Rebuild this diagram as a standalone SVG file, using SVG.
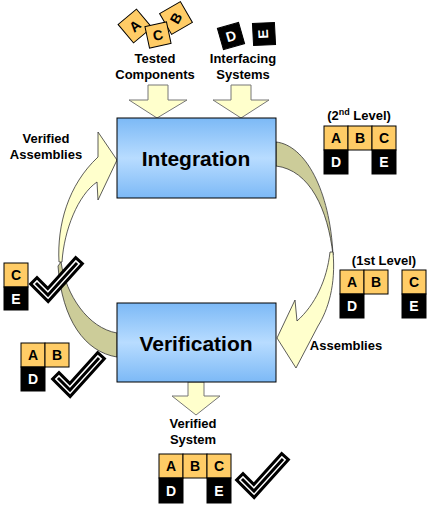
<svg xmlns="http://www.w3.org/2000/svg" width="427" height="508" viewBox="0 0 427 508">
<defs>
<linearGradient id="boxg" x1="0" y1="0" x2="0" y2="1">
<stop offset="0" stop-color="#7cb9f6"/>
<stop offset="0.5" stop-color="#b8dcff"/>
<stop offset="1" stop-color="#7cb9f6"/>
</linearGradient>
<g id="check">
<polyline points="0,0 11,11 39,-20" fill="none" stroke="#000" stroke-width="12" stroke-linejoin="miter" stroke-linecap="square"/>
<polyline points="0,0 11,11 39,-20" fill="none" stroke="#fff" stroke-width="6" stroke-linejoin="miter" stroke-linecap="square"/>
<polyline points="0,0 11,11 39,-20" fill="none" stroke="#000" stroke-width="3" stroke-linejoin="miter" stroke-linecap="square"/>
</g>
</defs>
<style>
text{font-family:"Liberation Sans",Arial,sans-serif;font-weight:bold}
.lbl{font-size:13px;fill:#000;text-anchor:middle}
.big{font-size:21px;fill:#000;text-anchor:middle}
.box{fill:url(#boxg);stroke:#000;stroke-width:1}
.or{fill:#ffcc66;stroke:#000;stroke-width:1}
.bk{fill:#000;stroke:#000;stroke-width:1}
.tk{font-size:14px;fill:#000;text-anchor:middle}
.tw{font-size:14px;fill:#fff;text-anchor:middle}
.ya{fill:#ffffcc;stroke:#777;stroke-width:1}
.yc{fill:#ffffcc;stroke:#333;stroke-width:0.8}
.ol{fill:#cccc99;stroke:#333;stroke-width:0.8}
</style>

<g id="connectors">
<path class="ya" d="M148,85 L168,85 L168,100 L187,100 L157,118 L129,100 L148,100 Z"/>
<path class="ya" d="M231,85 L251,85 L251,100 L269,100 L241,118 L213,100 L231,100 Z"/>
<path class="ya" d="M188,382 L204,382 L204,396 L220,396 L196,415 L172,396 L188,396 Z"/>
<path class="ol" d="M276,142 C305,145 330,190 333,255 C328,210 310,170 276,166 Z"/>
<path class="yc" d="M333,252 C336,285 328,310 318,326 L296,368 L277,338 L295,300 L297,321 C315,305 327,280 330,252 Z"/>
<path class="yc" d="M59,262 C57,225 68,185 98,157 L98,132 L117,160 L98,200 L97,182 C78,195 64,230 62,262 Z"/>
<path class="ol" d="M61,262 C66,295 88,328 117,333 L117,357 C85,352 62,320 58,266 Z"/>
</g>

<g id="tested-components">
<g transform="translate(135,26) rotate(-40)"><rect class="or" x="-12" y="-12" width="24" height="24"/><text class="tk" x="0" y="5" font-size="12">A</text></g>
<g transform="translate(176,18) rotate(-30)"><rect class="or" x="-12" y="-12" width="24" height="24"/><text class="tk" x="0" y="5" transform="rotate(-30)" font-size="12">B</text></g>
<g transform="translate(158,35) rotate(-12)"><rect class="or" x="-11" y="-11" width="22" height="22"/><text class="tk" x="0" y="5" font-size="12">C</text></g>
<text class="lbl" x="155" y="63">Tested</text>
<text class="lbl" x="155" y="79">Components</text>
</g>

<g id="interfacing-systems">
<g transform="translate(231,36) rotate(-16)"><rect class="bk" x="-11" y="-11" width="22" height="22"/><text class="tw" x="0" y="5" font-size="12">D</text></g>
<g transform="translate(264,34) rotate(-3)"><rect class="bk" x="-11" y="-11" width="22" height="22"/><text class="tw" x="0" y="0" font-size="12" transform="rotate(-90) translate(0,4)">E</text></g>
<text class="lbl" x="243" y="63">Interfacing</text>
<text class="lbl" x="243" y="79">Systems</text>
</g>

<g id="integration">
<rect class="box" x="117" y="118" width="159" height="80"/>
<text class="big" x="196" y="166">Integration</text>
</g>

<g id="verification">
<rect class="box" x="117" y="303" width="159" height="79"/>
<text class="big" x="196" y="351">Verification</text>
</g>

<g id="verified-assemblies-label">
<text class="lbl" x="46" y="143">Verified</text>
<text class="lbl" x="46" y="159">Assemblies</text>
</g>

<g id="assemblies-label">
<text class="lbl" x="346" y="350">Assemblies</text>
</g>

<g id="level2">
<text class="lbl" x="359" y="120">(2<tspan font-size="9" dy="-5">nd</tspan><tspan dy="5"> Level)</tspan></text>
<rect class="or" x="324" y="126" width="24" height="24"/><text class="tk" x="336" y="143">A</text>
<rect class="or" x="348" y="126" width="24" height="24"/><text class="tk" x="360" y="143">B</text>
<rect class="or" x="372" y="126" width="24" height="24"/><text class="tk" x="384" y="143">C</text>
<rect class="bk" x="324" y="150" width="24" height="24"/><text class="tw" x="336" y="167">D</text>
<rect class="bk" x="372" y="150" width="24" height="24"/><text class="tw" x="384" y="167">E</text>
</g>

<g id="level1">
<text class="lbl" x="384" y="265">(1st Level)</text>
<rect class="or" x="340" y="270" width="24" height="24"/><text class="tk" x="352" y="287">A</text>
<rect class="or" x="364" y="270" width="24" height="24"/><text class="tk" x="376" y="287">B</text>
<rect class="or" x="402" y="270" width="24" height="24"/><text class="tk" x="414" y="287">C</text>
<rect class="bk" x="340" y="294" width="24" height="24"/><text class="tw" x="352" y="311">D</text>
<rect class="bk" x="402" y="294" width="24" height="24"/><text class="tw" x="414" y="311">E</text>
</g>

<g id="verified-ce">
<rect class="or" x="4" y="263" width="24" height="24"/><text class="tk" x="16" y="280">C</text>
<rect class="bk" x="4" y="287" width="24" height="23"/><text class="tw" x="16" y="304">E</text>
<use href="#check" transform="translate(37,284)"/>
</g>

<g id="verified-abd">
<rect class="or" x="21" y="343" width="24" height="24"/><text class="tk" x="33" y="360">A</text>
<rect class="or" x="45" y="343" width="24" height="24"/><text class="tk" x="57" y="360">B</text>
<rect class="bk" x="21" y="367" width="24" height="24"/><text class="tw" x="33" y="384">D</text>
<use href="#check" transform="translate(59,379)"/>
</g>

<g id="verified-system">
<text class="lbl" x="193" y="428">Verified</text>
<text class="lbl" x="193" y="444">System</text>
<rect class="or" x="159" y="454" width="24" height="24"/><text class="tk" x="171" y="471">A</text>
<rect class="or" x="183" y="454" width="24" height="24"/><text class="tk" x="195" y="471">B</text>
<rect class="or" x="207" y="454" width="24" height="24"/><text class="tk" x="219" y="471">C</text>
<rect class="bk" x="159" y="478" width="24" height="25"/><text class="tw" x="171" y="496">D</text>
<rect class="bk" x="207" y="478" width="24" height="25"/><text class="tw" x="219" y="496">E</text>
<use href="#check" transform="translate(243,480)"/>
</g>
</svg>
